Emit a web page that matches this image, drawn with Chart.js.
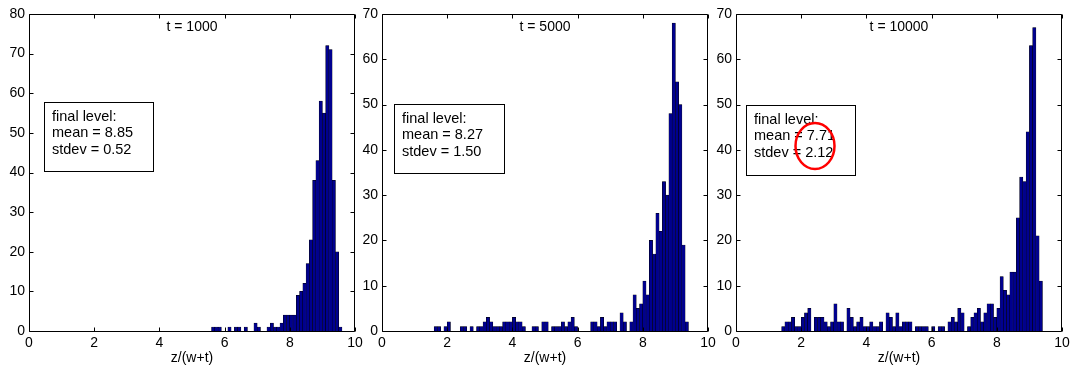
<!DOCTYPE html>
<html>
<head>
<meta charset="utf-8">
<script src="https://cdn.jsdelivr.net/npm/chart.js@4.4.1/dist/chart.umd.min.js"></script>
<style>
  html, body { margin: 0; padding: 0; background: #fff; }
  #wrap { position: relative; width: 1082px; height: 372px; }
  #wrap canvas { position: absolute; left: 0; top: 0; }
</style>
</head>
<body>
<div id="wrap">
  <canvas id="hist1000" width="1082" height="372"></canvas>
  <canvas id="hist5000" width="1082" height="372"></canvas>
  <canvas id="hist10000" width="1082" height="372"></canvas>
</div>
<script>
// Histograms of z/(w+t) at three times; bins are 0.1 wide, each list starts at its first bin's left edge.
const BIN_WIDTH = 0.1;
const X_TICKS_STEP = 2;
const X_LABEL = "z/(w+t)";

const titles = ["t = 1000", "t = 5000", "t = 10000"];
const means = ["8.85", "8.27", "7.71"];
const stdevs = ["0.52", "1.50", "2.12"];
const yMaxes = [80, 70, 70];

const start1000 = 5.6;
const counts1000 = [1, 1, 1, 0, 0, 1, 0, 1, 1, 0, 1, 0, 0, 2, 1, 0, 0, 1, 2, 1,
                    1, 2, 4, 4, 4, 4, 9, 10, 12, 17, 23, 38, 43, 58, 55, 72, 71, 38, 20, 1];

const start5000 = 1.6;
const counts5000 = [1, 1, 0, 1, 2, 0, 0, 0, 1, 1, 0, 1, 0, 1, 1, 2, 3, 2, 1, 1,
                    1, 2, 2, 2, 3, 2, 2, 1, 0, 0, 1, 1, 0, 2, 2, 0, 1, 1, 1, 2,
                    1, 2, 3, 1, 0, 0, 0, 0, 2, 2, 1, 3, 1, 2, 2, 2, 0, 4, 2, 0,
                    2, 8, 5, 6, 11, 8, 20, 17, 26, 22, 33, 30, 48, 68, 55, 50, 19, 2];

const start10000 = 1.4;
const counts10000 = [1, 2, 2, 3, 1, 1, 3, 4, 5, 0, 3, 3, 3, 2, 1, 2, 6, 2, 2, 0,
                     5, 3, 1, 2, 3, 1, 1, 2, 1, 1, 2, 0, 4, 3, 1, 4, 1, 2, 2, 2,
                     0, 1, 1, 1, 1, 0, 1, 0, 1, 1, 0, 2, 3, 2, 5, 4, 0, 1, 3, 4,
                     5, 2, 4, 6, 6, 3, 5, 12, 9, 8, 13, 13, 25, 34, 33, 44, 63, 67, 21, 11];

const BAR_FILL = "#00008f";
const BAR_EDGE = "#000000";
const FONT_FAMILY = "'Liberation Sans', Arial, Helvetica, sans-serif";
const TEXT_SIZE = 14;
Chart.defaults.font.family = FONT_FAMILY;
Chart.defaults.color = "#000";

// bin centres for a list of counts
function toBins(start, counts) {
  return counts.map((c, i) => ({ x: +(start + (i + 0.5) * BIN_WIDTH).toFixed(3), y: c }));
}

// MATLAB-ish frame: full box, inward ticks on all four sides, in-axes title and the stats box.
const matlabFrame = {
  id: "matlabFrame",
  afterDraw(chart, args, opts) {
    const { ctx, chartArea: a, scales: { x, y } } = chart;
    const L = a.left + 0.5, R = a.right - 0.5, T = a.top + 0.5, B = a.bottom + 0.5;
    const tick = 4;
    ctx.save();
    ctx.strokeStyle = "#000";
    ctx.lineWidth = 1;
    ctx.beginPath();
    ctx.rect(L, T, R - L, B - T);
    x.ticks.forEach((t) => {
      const px = Math.round(x.getPixelForValue(t.value)) + 0.5;
      ctx.moveTo(px, B); ctx.lineTo(px, B - tick);
      ctx.moveTo(px, T); ctx.lineTo(px, T + tick);
    });
    y.ticks.forEach((t) => {
      const py = Math.round(y.getPixelForValue(t.value)) + 0.5;
      ctx.moveTo(L, py); ctx.lineTo(L + tick, py);
      ctx.moveTo(R, py); ctx.lineTo(R - tick, py);
    });
    ctx.stroke();

    ctx.fillStyle = "#000";
    ctx.font = TEXT_SIZE + "px " + FONT_FAMILY;
    ctx.textAlign = "center";
    ctx.textBaseline = "middle";
    ctx.fillText(opts.title, (a.left + a.right) / 2, a.top + 13);

    const b = opts.box;
    ctx.fillStyle = "#fff";
    ctx.fillRect(b.x + 0.5, b.y + 0.5, b.w, b.h);
    ctx.strokeStyle = "#000";
    ctx.strokeRect(b.x + 0.5, b.y + 0.5, b.w, b.h);
    ctx.fillStyle = "#000";
    ctx.textAlign = "left";
    ctx.font = "14.5px " + FONT_FAMILY;
    opts.lines.forEach((line, i) => ctx.fillText(line, b.x + 8, b.y + 15 + i * 16.3));

    if (opts.ellipse) {
      const e = opts.ellipse;
      ctx.strokeStyle = "#ff0000";
      ctx.lineWidth = 2.5;
      ctx.beginPath();
      ctx.ellipse(e.cx, e.cy, e.rx, e.ry, 0, 0, Math.PI * 2);
      ctx.stroke();
    }
    ctx.restore();
  },
};

function histConfig(i, bins, padLeft, padRight, box, ellipse) {
  const tickFont = { size: TEXT_SIZE, family: FONT_FAMILY };
  return {
    type: "bar",
    data: {
      datasets: [{
        data: bins,
        backgroundColor: BAR_FILL,
        borderColor: BAR_EDGE,
        borderWidth: 0.5,
        barPercentage: 1,
        categoryPercentage: 1,
      }],
    },
    options: {
      responsive: false,
      animation: false,
      events: [],
      layout: { padding: { left: padLeft, right: padRight, top: 14, bottom: 0 } },
      scales: {
        x: {
          type: "linear",
          min: 0,
          max: 10,
          offset: false,
          grid: { display: false, drawTicks: false },
          border: { display: false },
          ticks: { stepSize: X_TICKS_STEP, padding: 4, maxRotation: 0, autoSkip: false, font: tickFont, color: "#000" },
          title: { display: true, text: X_LABEL, font: tickFont, color: "#000", padding: { top: 0, bottom: 5 } },
          afterFit(scale) { scale.height = 41; },
        },
        y: {
          min: 0,
          max: yMaxes[i],
          grid: { display: false, drawTicks: false },
          border: { display: false },
          ticks: { stepSize: 10, padding: 4, font: tickFont, color: "#000" },
          afterFit(scale) { scale.width = 29; },
        },
      },
      plugins: {
        legend: { display: false },
        tooltip: { enabled: false },
        matlabFrame: {
          title: titles[i],
          lines: ["final level:", "mean = " + means[i], "stdev = " + stdevs[i]],
          box,
          ellipse,
        },
      },
    },
    plugins: [matlabFrame],
  };
}

new Chart(document.getElementById("hist1000"),
  histConfig(0, toBins(start1000, counts1000), 0, 727, { x: 44, y: 102, w: 109, h: 69 }, null));
new Chart(document.getElementById("hist5000"),
  histConfig(1, toBins(start5000, counts5000), 353, 374, { x: 394, y: 104, w: 110, h: 69 }, null));
new Chart(document.getElementById("hist10000"),
  histConfig(2, toBins(start10000, counts10000), 707, 20, { x: 746, y: 105, w: 109, h: 70 },
    { cx: 815, cy: 146, rx: 19.5, ry: 23 }));
</script>
</body>
</html>
